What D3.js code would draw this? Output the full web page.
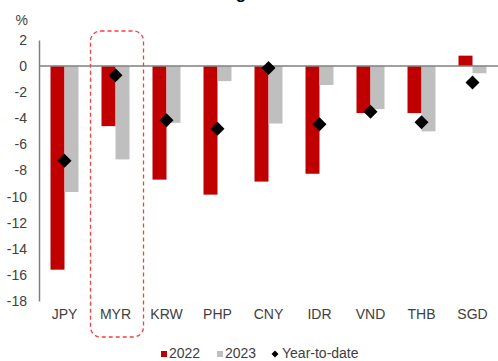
<!DOCTYPE html>
<html>
<head>
<meta charset="utf-8">
<script src="https://cdn.jsdelivr.net/npm/d3@7/dist/d3.min.js"></script>
<style>
  html, body { margin: 0; padding: 0; background: #fff; }
  svg { display: block; font-family: "Liberation Sans", Arial, sans-serif; }
</style>
</head>
<body>
<svg id="chart" width="498" height="361"></svg>
<script>
// Currency performance vs USD, %
const currencies = ["JPY", "MYR", "KRW", "PHP", "CNY", "IDR", "VND", "THB", "SGD"];
const change2022 = [-15.6, -4.6, -8.7, -9.85, -8.85, -8.25, -3.6, -3.6, 0.8];
const change2023 = [-9.65, -7.15, -4.35, -1.15, -4.4, -1.45, -3.3, -5.0, -0.55];
const yearToDate = [-7.25, -0.7, -4.15, -4.8, -0.15, -4.45, -3.5, -4.3, -1.25];
const yTicks = [2, 0, -2, -4, -6, -8, -10, -12, -14, -16, -18];
const highlighted = "MYR";

const RED = "#c00000", GREY = "#bfbfbf", TEXT = "#404040", AXIS = "#7f7f7f";

const svg = d3.select("#chart");

const x = d3.scaleBand().domain(currencies).range([39, 498]);
const y = d3.scaleLinear().domain([-18, 2]).range([301, 40]);

const barW = 14;

// partially visible title above the plot
svg.append("text")
  .attr("x", 241).attr("y", -1)
  .attr("text-anchor", "middle")
  .attr("font-size", 17).attr("font-weight", "bold").attr("fill", "#000")
  .text("g");

// highlight box around one currency
const hx = x(highlighted);
svg.append("rect")
  .attr("x", hx + 0.5).attr("y", 31)
  .attr("width", x.bandwidth() + 2).attr("height", 306)
  .attr("rx", 10).attr("ry", 10)
  .attr("fill", "none").attr("stroke", "#ff3b3b")
  .attr("stroke-width", 1.3).attr("stroke-dasharray", "4,3");

// bars
const g = svg.append("g");
g.selectAll("rect.y22").data(currencies).join("rect")
  .attr("class", "y22")
  .attr("x", d => x(d) + x.bandwidth() / 2 - barW)
  .attr("width", barW)
  .attr("y", (d, i) => y(Math.max(0, change2022[i])))
  .attr("height", (d, i) => Math.abs(y(change2022[i]) - y(0)))
  .attr("fill", RED);

g.selectAll("rect.y23").data(currencies).join("rect")
  .attr("class", "y23")
  .attr("x", d => x(d) + x.bandwidth() / 2)
  .attr("width", barW)
  .attr("y", (d, i) => y(Math.max(0, change2023[i])))
  .attr("height", (d, i) => Math.abs(y(change2023[i]) - y(0)))
  .attr("fill", GREY);

// axes
const yAxis = d3.axisLeft(y).tickValues(yTicks).tickSize(0).tickPadding(12)
  .tickFormat(d => d === 0 ? "0" : String(d).replace("−", "-"));
const ya = svg.append("g").attr("transform", "translate(39,0)").call(yAxis);
ya.select(".domain").attr("stroke", AXIS).attr("stroke-width", 1.5);
ya.selectAll("text").attr("font-size", 14).attr("fill", TEXT)
  .attr("font-family", "Liberation Sans, Arial, sans-serif");

svg.append("line")
  .attr("x1", 39).attr("x2", 498)
  .attr("y1", y(0)).attr("y2", y(0))
  .attr("stroke", AXIS).attr("stroke-width", 1.5);

const xAxis = d3.axisBottom(x).tickSize(0).tickPadding(0);
const xa = svg.append("g").attr("transform", "translate(0,309)").call(xAxis);
xa.select(".domain").remove();
xa.selectAll("text").attr("font-size", 14).attr("fill", TEXT)
  .attr("font-family", "Liberation Sans, Arial, sans-serif");

svg.append("text").attr("x", 28).attr("y", 25)
  .attr("text-anchor", "end").attr("font-size", 14).attr("fill", TEXT)
  .text("%");

// year-to-date diamonds
const dia = r => `M0,${-r}L${r},0L0,${r}L${-r},0Z`;
svg.selectAll("path.ytd").data(currencies).join("path")
  .attr("class", "ytd")
  .attr("transform", (d, i) => `translate(${x(d) + x.bandwidth() / 2},${y(yearToDate[i])})`)
  .attr("d", dia(7))
  .attr("fill", "#000");

// legend
const leg = svg.append("g").attr("font-size", 14).attr("fill", TEXT);
const items = [
  { label: "2022", kind: "sq", color: RED, x: 161 },
  { label: "2023", kind: "sq", color: GREY, x: 217 },
  { label: "Year-to-date", kind: "dia", color: "#000", x: 272 }
];
items.forEach(it => {
  if (it.kind === "sq") {
    leg.append("rect").attr("x", it.x).attr("y", 351).attr("width", 6).attr("height", 6).attr("fill", it.color);
  } else {
    leg.append("path").attr("transform", `translate(${it.x + 3},354)`).attr("d", dia(3.5)).attr("fill", it.color);
  }
  leg.append("text").attr("x", it.x + (it.kind === "sq" ? 8 : 10)).attr("y", 358).text(it.label);
});
</script>
</body>
</html>
